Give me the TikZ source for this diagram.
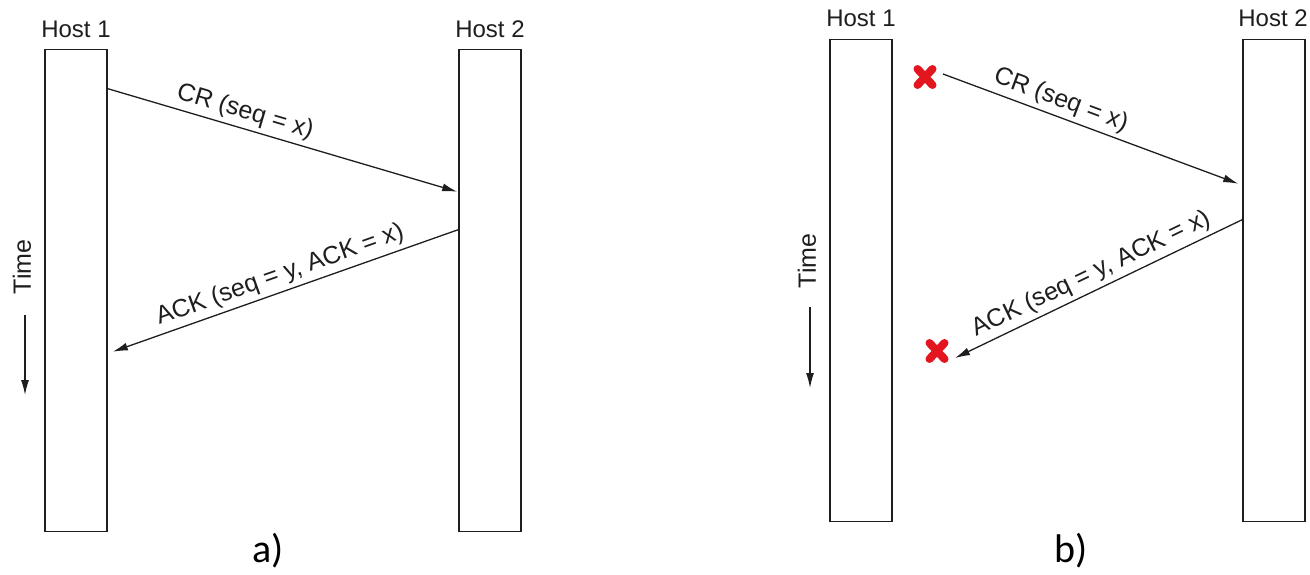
\documentclass[tikz,border=0pt]{standalone}
\usepackage{fontspec}
\setmainfont{Liberation Sans}
\newfontfamily\capfont{Carlito}
\usetikzlibrary{arrows.meta}
\definecolor{ink}{HTML}{1E1E1E}
\definecolor{lossred}{HTML}{E3161F}
\begin{document}
\begin{tikzpicture}[x=1pt,y=-1pt,
  hostbox/.style={draw=ink,line width=1.6pt,minimum width=62pt,minimum height=482pt,inner sep=0pt},
  hostname/.style={font=\fontsize{24}{24}\selectfont,text=ink,anchor=base,inner sep=0pt},
  msg/.style={draw=ink,line width=1.3pt,-{Latex[length=15pt,width=8pt]}},
  msglabel/.style={font=\fontsize{25}{25}\selectfont,text=ink,sloped,above,inner sep=4pt},
  timelabel/.style={font=\fontsize{25}{25}\selectfont,text=ink,rotate=90,inner sep=0pt},
  panel/.style={font=\capfont\fontsize{40}{40}\selectfont,text=black,inner sep=0pt},
  lost/.style={draw=lossred,line width=8pt,line cap=round}]
\useasboundingbox (0,0) rectangle (1310,575);

% ---------- a) ----------
\node[hostbox] (h1a) at (76,290.5) {};
\node[hostbox] (h2a) at (490,290.5) {};
\node[hostname] (n1a) at (76,38) {Host 1};
\node[hostname] (n2a) at (490,38) {Host 2};

\draw[msg] ([yshift=-40pt]h1a.north east) -- ([xshift=-1pt,yshift=-143pt]h2a.north west)
  node[msglabel,pos=0.38] (cra) {CR (seq = x)};
\draw[msg] ([yshift=-181pt]h2a.north west) -- ([xshift=5pt,yshift=-303pt]h1a.north east)
  node[msglabel,pos=0.5] (acka) {ACK (seq = y, ACK = x)};

\node[timelabel] (ta) at (22,267) {Time};
\coordinate (ta0) at (25,315);
\coordinate (ta1) at (25,395);
\draw[msg] (ta0) -- (ta1);

\node[panel] (pa) at (268,551) {a)};

% ---------- b) ----------
\node[hostbox] (h1b) at (861,280.5) {};
\node[hostbox] (h2b) at (1274,280.5) {};
\node[hostname] (n1b) at (861,27) {Host 1};
\node[hostname] (n2b) at (1273,27) {Host 2};

% lost-message crosses
\coordinate (xb1) at (925,77);
\coordinate (xb2) at (937,351);
\draw[lost] ([shift={(-7.5,-8)}]xb1) -- ([shift={(7.5,8)}]xb1)
            ([shift={(-7.5,8)}]xb1) -- ([shift={(7.5,-8)}]xb1);
\draw[lost] ([shift={(-7.5,-8)}]xb2) -- ([shift={(7.5,8)}]xb2)
            ([shift={(-7.5,8)}]xb2) -- ([shift={(7.5,-8)}]xb2);

\draw[msg] ([xshift=18pt,yshift=3pt]xb1) -- ([xshift=-4pt,yshift=-145pt]h2b.north west)
  node[msglabel,pos=0.38] (crb) {CR (seq = x)};
\draw[msg] ([yshift=-181pt]h2b.north west) -- ([xshift=18pt,yshift=-7pt]xb2)
  node[msglabel,pos=0.5] (ackb) {ACK (seq = y, ACK = x)};

\node[timelabel] (tb) at (807,261) {Time};
\coordinate (tb0) at (810,307);
\coordinate (tb1) at (810,388);
\draw[msg] (tb0) -- (tb1);

\node[panel] (pb) at (1071,551) {b)};
\end{tikzpicture}
\end{document}
